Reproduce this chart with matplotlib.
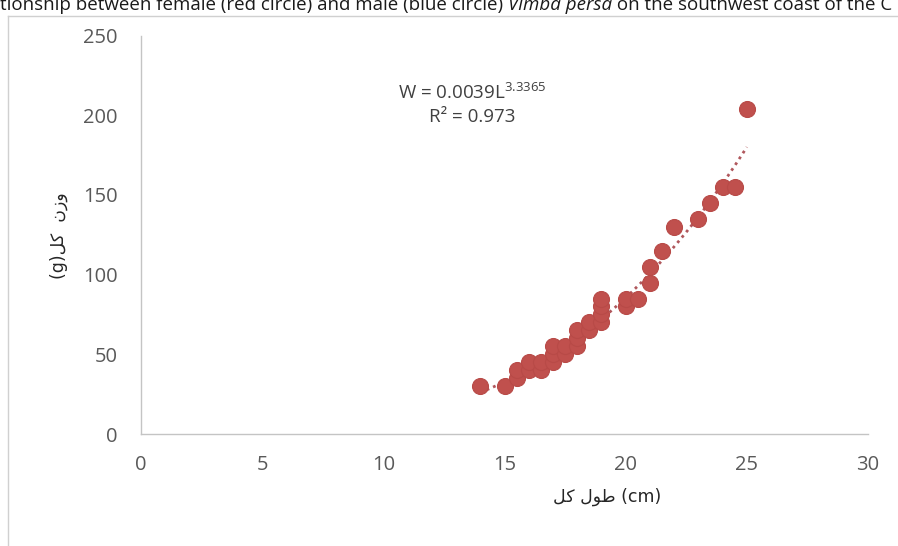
import matplotlib
matplotlib.use("Agg")
import matplotlib.pyplot as plt
import numpy as np
from matplotlib.lines import Line2D
from matplotlib.transforms import IdentityTransform

# Total length (cm) and total weight (g) of the sampled fish
length_cm = [14, 15, 15.5, 15.5, 16, 16, 16.5, 16.5, 17, 17, 17, 17.5, 17.5,
             18, 18, 18, 18.5, 18.5, 19, 19, 19, 19, 20, 20, 20.5, 21, 21,
             21.5, 22, 23, 23.5, 24, 24.5, 25]
weight_g = [30, 30, 35, 40, 40, 45, 40, 45, 45, 50, 55, 50, 55,
            55, 60, 65, 65, 70, 70, 75, 80, 85, 80, 85, 85, 95, 105,
            115, 130, 135, 145, 155, 155, 204]

# Power-law fit W = a * L^b
fit_a = 0.0039
fit_b = 3.3365
fit_r2 = 0.973

x_ticks = [0, 5, 10, 15, 20, 25, 30]
y_ticks = [0, 50, 100, 150, 200, 250]

# Persian axis titles, written in visual (shaped) order
x_title = "\uFEDE\uFB90 \uFEDD\uFEEE\uFEC3 (cm)"        # طول کل (cm)
y_title = "(g)\uFEDE\uFB90  \uFEE5\uFEAF\uFEED"         # وزن کل(g)

caption_parts = ["tionship between female (red circle) and male (blue circle) ",
                 "Vimba persa",
                 " on the southwest coast of the C"]

W, H = 898, 546
fig = plt.figure(figsize=(W / 100, H / 100), dpi=100)
fig.patch.set_facecolor("white")

base_font = ["Open Sans", "DejaVu Sans"]
plt.rcParams["font.family"] = base_font

# Caption line running across the top edge
cap_color = "#1a1a1a"
cap_size = 13.5
base_y = H - 10  # baseline in display pixels
fig.canvas.draw()
r = fig.canvas.get_renderer()
x_cursor = 0.0
for i, part in enumerate(caption_parts):
    t = fig.text(x_cursor, base_y, part, fontsize=cap_size, color=cap_color,
                 style="italic" if i == 1 else "normal", ha="left",
                 va="baseline", family=base_font, transform=IdentityTransform())
    x_cursor = t.get_window_extent(r).x1

# Chart-area frame (top and left edges)
frame_c = "#d0d0d0"
fig.add_artist(Line2D([8 / W, 1.0], [1 - 16 / H, 1 - 16 / H],
                      transform=fig.transFigure, color=frame_c, lw=1.0))
fig.add_artist(Line2D([8 / W, 8 / W], [0.0, 1 - 16 / H],
                      transform=fig.transFigure, color=frame_c, lw=1.0))

ax = fig.add_axes([141 / W, 1 - 434 / H, (868 - 141) / W, (434 - 35.5) / H])
ax.set_facecolor("white")
ax.set_xlim(0, 30)
ax.set_ylim(0, 250)
ax.set_xticks(x_ticks)
ax.set_yticks(y_ticks)
ax.tick_params(axis="both", length=0, labelsize=14.5, labelcolor="#595959")
ax.tick_params(axis="x", pad=15)
ax.tick_params(axis="y", pad=17)
for s in ("top", "right"):
    ax.spines[s].set_visible(False)
for s in ("left", "bottom"):
    ax.spines[s].set_color("#c4c4c4")
    ax.spines[s].set_linewidth(1.0)

# Fitted power curve
xf = np.linspace(min(length_cm), max(length_cm), 200)
ax.plot(xf, fit_a * xf ** fit_b, linestyle=(0, (1, 1.5)), color="#b0575c",
        lw=2.0, zorder=2)

# Observations
ax.plot(length_cm, weight_g, linestyle="none", marker="o", ms=11.5,
        mfc="#c0504d", mec="#b84a47", mew=0.8, zorder=3)

ax.text(13.65, 207,
        r"W = 0.0039L$^{\mathregular{3.3365}}$" + "\n" + "R\u00b2 = 0.973",
        ha="center", va="center", multialignment="center", fontsize=13.5,
        color="#404040", linespacing=1.3)

fig.text(607 / W, 1 - 497 / H, x_title, ha="center", va="center",
         fontsize=12.5, color="#262626", family=["DejaVu Sans"])
fig.text(59 / W, 1 - 236 / H, y_title, ha="center", va="center",
         rotation=90, fontsize=12.5, color="#262626", family=["DejaVu Sans"])

fig.savefig("out.png", dpi=100, facecolor="white")
